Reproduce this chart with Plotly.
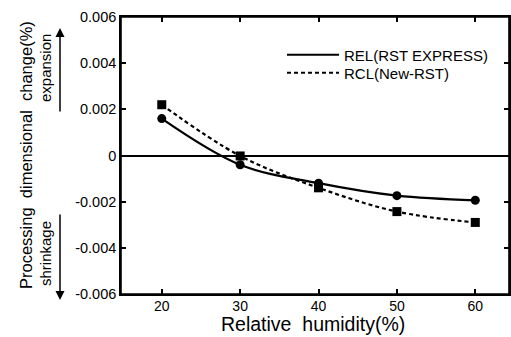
import plotly.graph_objects as go

humidity = [20, 30, 40, 50, 60]
rel_values = [0.0016, -0.0004, -0.0012, -0.00174, -0.00194]
rcl_values = [0.0022, -0.00002, -0.0014, -0.00243, -0.0029]
rel_name = "REL(RST EXPRESS)"
rcl_name = "RCL(New-RST)"
y_tickvals = [-0.006, -0.004, -0.002, 0, 0.002, 0.004, 0.006]
y_ticktext = ["-0.006", "-0.004", "-0.002", "0", "0.002", "0.004", "0.006"]
x_tickvals = [20, 30, 40, 50, 60]

FONT = "Liberation Sans, Arial, sans-serif"

fig = go.Figure()
fig.add_trace(go.Scatter(x=humidity, y=rel_values, mode="lines", name=rel_name,
                         legend="legend",
                         line=dict(color="black", width=2.2, shape="spline")))
fig.add_trace(go.Scatter(x=humidity, y=rcl_values, mode="lines", name=rcl_name,
                         legend="legend2",
                         line=dict(color="black", width=2.2, shape="spline", dash="4px,3px")))
fig.add_trace(go.Scatter(x=humidity, y=rel_values, mode="markers", showlegend=False,
                         marker=dict(color="black", size=9, symbol="circle")))
fig.add_trace(go.Scatter(x=humidity, y=rcl_values, mode="markers", showlegend=False,
                         marker=dict(color="black", size=9, symbol="square")))

W, H = 511, 337
L, R, T, B = 121, 2, 17, 43
pw, ph = W - L - R, H - T - B

def px(xp):
    return (xp - L) / pw

def py(yp):
    return (H - B - yp) / ph

leg_common = dict(xanchor="left", yanchor="middle", bgcolor="rgba(0,0,0,0)",
                  itemwidth=52, borderwidth=0,
                  font=dict(size=15, family=FONT, color="black"))

fig.update_layout(
    width=W, height=H,
    margin=dict(l=L, r=R, t=T, b=B, autoexpand=False),
    paper_bgcolor="white", plot_bgcolor="white",
    font=dict(family=FONT, color="black", size=14),
    legend=dict(x=px(282), y=py(55), **leg_common),
    legend2=dict(x=px(282), y=py(73), **leg_common),
    xaxis=dict(range=[14.8, 64.3], tickvals=x_tickvals, ticks="inside", ticklen=5,
               tickwidth=1.5, tickcolor="black", showline=True, linecolor="black",
               linewidth=1.6, mirror="ticks", showgrid=False, zeroline=False,
               tickfont=dict(size=14), ticklabelstandoff=-2),
    yaxis=dict(range=[-0.006, 0.006], tickvals=y_tickvals, ticktext=y_ticktext,
               ticks="inside", ticklen=5, tickwidth=1.5, tickcolor="black",
               showline=True, linecolor="black", linewidth=1.6, mirror="ticks",
               showgrid=False, zeroline=True, zerolinecolor="black", zerolinewidth=1.5,
               tickfont=dict(size=14.5)),
    shapes=[dict(type="rect", xref="paper", yref="paper", x0=0, x1=1, y0=0, y1=1,
                 line=dict(color="black", width=1.6), layer="above")],
)

annots = [
    dict(text="Processing  dimensional  change(%)", x=px(26), y=py(155), textangle=-90,
         font=dict(size=16.5), yanchor="middle"),
    dict(text="expansion", x=px(46), y=py(68), textangle=-90, font=dict(size=15),
         yanchor="middle"),
    dict(text="shrinkage", x=px(46), y=py(254), textangle=-90, font=dict(size=15),
         yanchor="middle"),
    dict(text="Relative  humidity(%)", x=px(313), y=py(337), textangle=0,
         font=dict(size=19.5), yanchor="bottom"),
]
for a in annots:
    fig.add_annotation(xref="paper", yref="paper", showarrow=False,
                       xanchor="center", **a)

fig.add_annotation(xref="paper", yref="paper", x=px(60), y=py(28), ax=0, ay=85,
                   text="", showarrow=True, arrowhead=2, arrowsize=1.2,
                   arrowwidth=1.5, arrowcolor="black")
fig.add_annotation(xref="paper", yref="paper", x=px(60), y=py(300), ax=0, ay=-87,
                   text="", showarrow=True, arrowhead=2, arrowsize=1.2,
                   arrowwidth=1.5, arrowcolor="black")

fig.write_html("out.html", config={"displayModeBar": False},
               post_script="document.body.style.margin='0';")
